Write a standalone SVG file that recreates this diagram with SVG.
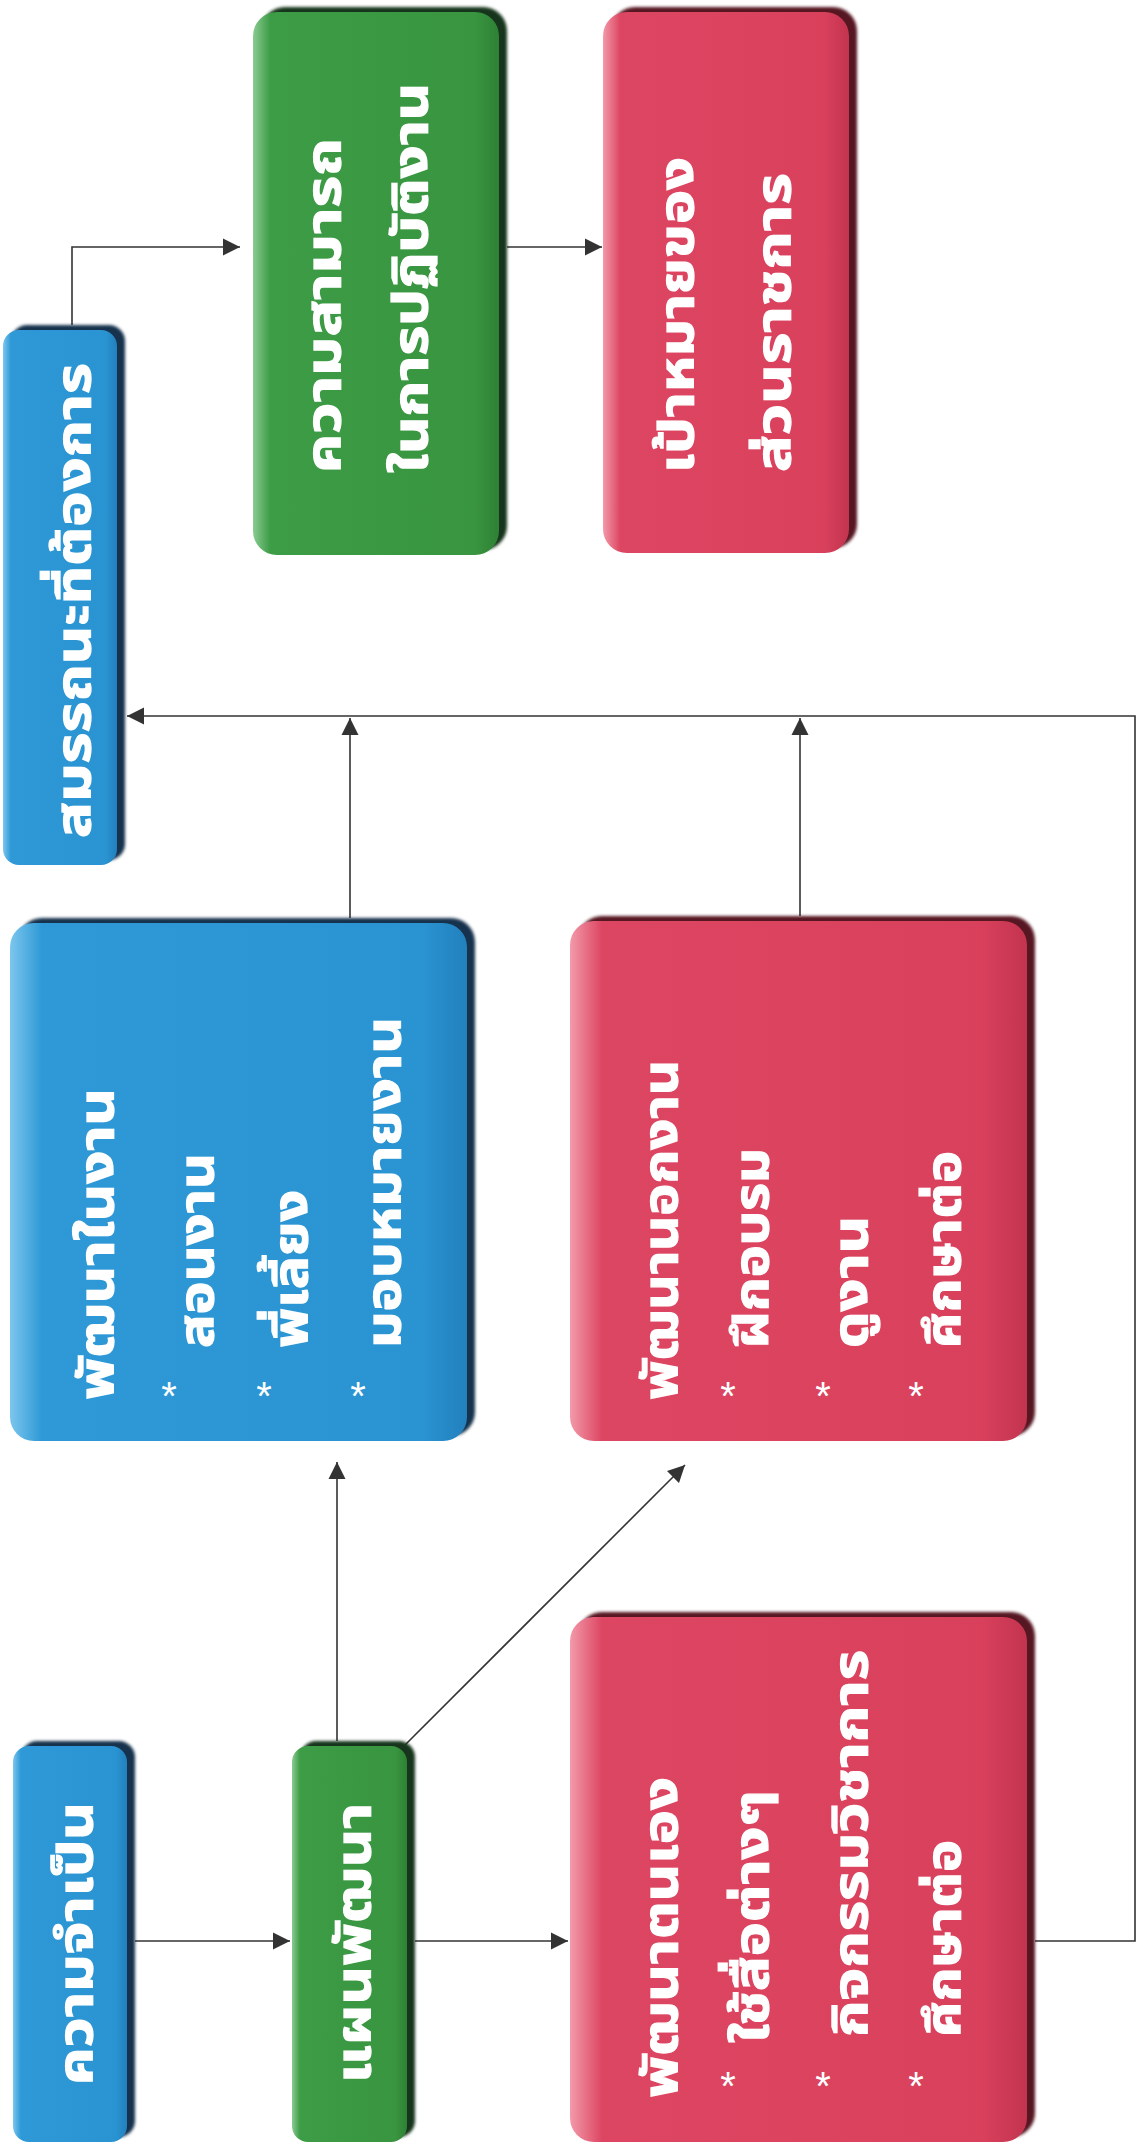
<svg xmlns="http://www.w3.org/2000/svg" width="1137" height="2155" viewBox="0 0 1137 2155">
  <style>
    .t { font-family: 'Noto Sans Thai', 'Noto Sans', 'DejaVu Sans', sans-serif; font-weight: bold; font-size: 48px; fill: #ffffff; stroke: #ffffff; stroke-width: 1.2; }
    .a { font-family: 'Liberation Sans', 'DejaVu Sans', sans-serif; font-size: 40px; fill: #ffffff; text-anchor: middle; }
    .c { fill: none; stroke: #333333; stroke-width: 1.6; marker-end: url(#ah); }
    .shB { fill: #12324d; filter: url(#blur); }
    .shG { fill: #16361a; filter: url(#blur); }
    .shR { fill: #561824; filter: url(#blur); }
  </style>
  <defs>
    <filter id="blur" x="-10%" y="-10%" width="120%" height="120%">
      <feGaussianBlur stdDeviation="1.5"/>
    </filter>
    <linearGradient id="gB" x1="0" y1="0" x2="1" y2="0">
      <stop offset="0" stop-color="#7cc6ee"/>
      <stop offset="0.07" stop-color="#2e99d6"/>
      <stop offset="0.9" stop-color="#2a94d2"/>
      <stop offset="1" stop-color="#2280bd"/>
    </linearGradient>
    <linearGradient id="gG" x1="0" y1="0" x2="1" y2="0">
      <stop offset="0" stop-color="#8acb92"/>
      <stop offset="0.07" stop-color="#3d9c46"/>
      <stop offset="0.9" stop-color="#39953f"/>
      <stop offset="1" stop-color="#2e8135"/>
    </linearGradient>
    <linearGradient id="gR" x1="0" y1="0" x2="1" y2="0">
      <stop offset="0" stop-color="#f29aaa"/>
      <stop offset="0.07" stop-color="#dd4662"/>
      <stop offset="0.9" stop-color="#d9405c"/>
      <stop offset="1" stop-color="#c3344f"/>
    </linearGradient>
    <marker id="ah" viewBox="0 0 10 10" refX="10" refY="5" markerWidth="17" markerHeight="18" markerUnits="userSpaceOnUse" orient="auto">
      <path d="M0,0 L10,5 L0,10 z" fill="#333333"/>
    </marker>
  </defs>
  <rect width="1137" height="2155" fill="#ffffff"/>

  <g id="connectors">
    <path class="c" d="M135,1941 L290,1941"/>
    <path class="c" d="M415,1941 L568,1941"/>
    <path class="c" d="M337,1741 L337,1462"/>
    <path class="c" d="M405,1745 L685,1465"/>
    <path class="c" d="M1035,1941 L1135,1941 L1135,716 L127,716"/>
    <path class="c" d="M350,918 L350,718"/>
    <path class="c" d="M800,916 L800,718"/>
    <path class="c" d="M72,325 L72,247 L240,247"/>
    <path class="c" d="M507,247 L602,247"/>
  </g>

  <g id="n-need">
    <rect class="shB" x="21" y="1741" width="114" height="396" rx="16"/>
    <rect x="13" y="1746" width="114" height="396" rx="16" fill="url(#gB)"/>
    <text class="t" transform="translate(92,2085) rotate(-90)" textLength="283" lengthAdjust="spacingAndGlyphs">ความจำเป็น</text>
  </g>

  <g id="n-plan">
    <rect class="shG" x="300" y="1741" width="115" height="396" rx="16"/>
    <rect x="292" y="1746" width="115" height="396" rx="16" fill="url(#gG)"/>
    <text class="t" transform="translate(370,2083) rotate(-90)" textLength="280" lengthAdjust="spacingAndGlyphs">แผนพัฒนา</text>
  </g>

  <g id="n-self">
    <rect class="shR" x="578" y="1612" width="457" height="525" rx="24"/>
    <rect x="570" y="1617" width="457" height="525" rx="24" fill="url(#gR)"/>
    <text class="t" transform="translate(677,2098) rotate(-90)" textLength="321" lengthAdjust="spacingAndGlyphs">พัฒนาตนเอง</text>
    <text class="a" x="728" y="2100">*</text>
    <text class="t" transform="translate(768,2043) rotate(-90)" textLength="253" lengthAdjust="spacingAndGlyphs">ใช้สื่อต่างๆ</text>
    <text class="a" x="823" y="2100">*</text>
    <text class="t" transform="translate(867,2037) rotate(-90)" textLength="387" lengthAdjust="spacingAndGlyphs">กิจกรรมวิชาการ</text>
    <text class="a" x="916" y="2100">*</text>
    <text class="t" transform="translate(960,2037) rotate(-90)" textLength="197" lengthAdjust="spacingAndGlyphs">ศึกษาต่อ</text>
  </g>

  <g id="n-onjob">
    <rect class="shB" x="18" y="918" width="457" height="518" rx="24"/>
    <rect x="10" y="923" width="457" height="518" rx="24" fill="url(#gB)"/>
    <text class="t" transform="translate(113,1400) rotate(-90)" textLength="312" lengthAdjust="spacingAndGlyphs">พัฒนาในงาน</text>
    <text class="a" x="169" y="1410">*</text>
    <text class="t" transform="translate(213,1348) rotate(-90)" textLength="195" lengthAdjust="spacingAndGlyphs">สอนงาน</text>
    <text class="a" x="264" y="1410">*</text>
    <text class="t" transform="translate(307,1348) rotate(-90)" textLength="158" lengthAdjust="spacingAndGlyphs">พี่เลี้ยง</text>
    <text class="a" x="358" y="1410">*</text>
    <text class="t" transform="translate(400,1348) rotate(-90)" textLength="331" lengthAdjust="spacingAndGlyphs">มอบหมายงาน</text>
  </g>

  <g id="n-offjob">
    <rect class="shR" x="578" y="916" width="457" height="520" rx="24"/>
    <rect x="570" y="921" width="457" height="520" rx="24" fill="url(#gR)"/>
    <text class="t" transform="translate(677,1400) rotate(-90)" textLength="340" lengthAdjust="spacingAndGlyphs">พัฒนานอกงาน</text>
    <text class="a" x="728" y="1410">*</text>
    <text class="t" transform="translate(768,1348) rotate(-90)" textLength="200" lengthAdjust="spacingAndGlyphs">ฝึกอบรม</text>
    <text class="a" x="823" y="1410">*</text>
    <text class="t" transform="translate(867,1348) rotate(-90)" textLength="132" lengthAdjust="spacingAndGlyphs">ดูงาน</text>
    <text class="a" x="916" y="1410">*</text>
    <text class="t" transform="translate(960,1348) rotate(-90)" textLength="197" lengthAdjust="spacingAndGlyphs">ศึกษาต่อ</text>
  </g>

  <g id="n-competency">
    <rect class="shB" x="11" y="325" width="114" height="535" rx="16"/>
    <rect x="3" y="330" width="114" height="535" rx="16" fill="url(#gB)"/>
    <text class="t" transform="translate(90,838) rotate(-90)" textLength="475" lengthAdjust="spacingAndGlyphs">สมรรถนะที่ต้องการ</text>
  </g>

  <g id="n-ability">
    <rect class="shG" x="261" y="7" width="246" height="543" rx="24"/>
    <rect x="253" y="12" width="246" height="543" rx="24" fill="url(#gG)"/>
    <text class="t" transform="translate(340,473) rotate(-90)" textLength="335" lengthAdjust="spacingAndGlyphs">ความสามารถ</text>
    <text class="t" transform="translate(427,473) rotate(-90)" textLength="390" lengthAdjust="spacingAndGlyphs">ในการปฏิบัติงาน</text>
  </g>

  <g id="n-goal">
    <rect class="shR" x="611" y="7" width="246" height="541" rx="24"/>
    <rect x="603" y="12" width="246" height="541" rx="24" fill="url(#gR)"/>
    <text class="t" transform="translate(693,473) rotate(-90)" textLength="316" lengthAdjust="spacingAndGlyphs">เป้าหมายของ</text>
    <text class="t" transform="translate(790,472) rotate(-90)" textLength="299" lengthAdjust="spacingAndGlyphs">ส่วนราชการ</text>
  </g>
</svg>
